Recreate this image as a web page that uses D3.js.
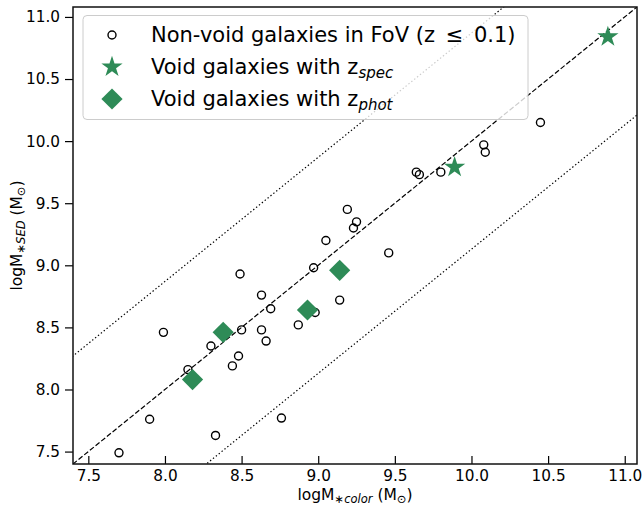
<!DOCTYPE html>
<html>
<head>
<meta charset="utf-8">
<script src="https://cdn.jsdelivr.net/npm/d3@7"></script>
<style>
  html, body { margin: 0; padding: 0; background: #fff; }
  svg { display: block; font-family: "DejaVu Sans", sans-serif; }
</style>
</head>
<body>
<svg id="chart" width="642" height="508"></svg>
<script>
// Non-void galaxies in the field of view: colour-based vs SED-based stellar mass
const nonVoidColor = [7.70, 7.90, 7.99, 8.15, 8.30, 8.33, 8.44, 8.48, 8.49, 8.50, 8.63, 8.63, 8.66, 8.69, 8.76, 8.87,
  8.97, 8.98, 9.05, 9.12, 9.14, 9.19, 9.23, 9.25, 9.46, 9.64, 9.66, 9.80, 10.08, 10.09, 10.45];
const nonVoidSED = [7.49, 7.76, 8.46, 8.16, 8.35, 7.63, 8.19, 8.27, 8.93, 8.48, 8.76, 8.48, 8.39, 8.65, 7.77, 8.52,
  8.98, 8.62, 9.20, 8.96, 8.72, 9.45, 9.30, 9.35, 9.10, 9.75, 9.73, 9.75, 9.97, 9.91, 10.15];

// Void galaxies with spectroscopic redshifts
const specColor = [9.89, 10.89];
const specSED = [9.79, 10.84];

// Void galaxies with photometric redshifts
const photColor = [8.18, 8.38, 8.93, 9.14];
const photSED = [8.08, 8.46, 8.64, 8.96];

// Axis settings
const axisDomain = [7.4, 11.08];
const tickValues = [7.5, 8.0, 8.5, 9.0, 9.5, 10.0, 10.5, 11.0];
const scatterOffset = 0.87;   // offset of the dotted envelope lines

const svg = d3.select("#chart");
const margin = { left: 73, right: 5, top: 7, bottom: 44 };
const W = 642, H = 508;
const green = "#2e8b57";

const x = d3.scaleLinear().domain(axisDomain).range([margin.left, W - margin.right]);
const y = d3.scaleLinear().domain(axisDomain).range([H - margin.bottom, margin.top]);

svg.append("defs").append("clipPath").attr("id", "plotClip")
  .append("rect")
  .attr("x", x(axisDomain[0])).attr("y", y(axisDomain[1]))
  .attr("width", x(axisDomain[1]) - x(axisDomain[0]))
  .attr("height", y(axisDomain[0]) - y(axisDomain[1]));

const plot = svg.append("g").attr("clip-path", "url(#plotClip)");

// one-to-one relation and its envelope
const relLines = [
  { off: 0, dash: "5.1,2.2" },
  { off: scatterOffset, dash: "1.4,2.3" },
  { off: -scatterOffset, dash: "1.4,2.3" }
];
const lineGen = d3.line().x(d => x(d[0])).y(d => y(d[1]));
relLines.forEach(l => {
  const lo = axisDomain[0] - 1, hi = axisDomain[1] + 1;
  plot.append("path")
    .datum([[lo, lo + l.off], [hi, hi + l.off]])
    .attr("d", lineGen)
    .attr("fill", "none")
    .attr("stroke", "#000")
    .attr("stroke-width", 1.2)
    .attr("stroke-dasharray", l.dash);
});

// markers
const circleR = 4;
const starSym = d3.symbol().type(d3.symbolStar).size(140);
const diamondSym = d3.symbol().type(d3.symbolSquare).size(225);

plot.selectAll("circle.nv")
  .data(d3.zip(nonVoidColor, nonVoidSED))
  .join("circle")
  .attr("class", "nv")
  .attr("cx", d => x(d[0])).attr("cy", d => y(d[1]))
  .attr("r", circleR)
  .attr("fill", "none")
  .attr("stroke", "#000")
  .attr("stroke-width", 1.4);

plot.selectAll("path.spec")
  .data(d3.zip(specColor, specSED))
  .join("path")
  .attr("class", "spec")
  .attr("d", starSym)
  .attr("transform", d => `translate(${x(d[0])},${y(d[1])})`)
  .attr("fill", green);

plot.selectAll("path.phot")
  .data(d3.zip(photColor, photSED))
  .join("path")
  .attr("class", "phot")
  .attr("d", diamondSym)
  .attr("transform", d => `translate(${x(d[0])},${y(d[1])}) rotate(45)`)
  .attr("fill", green);

// axes
const xAxis = d3.axisBottom(x).tickValues(tickValues).tickFormat(d3.format(".1f"))
  .tickSizeInner(-8).tickSizeOuter(0).tickPadding(6);
const yAxis = d3.axisLeft(y).tickValues(tickValues).tickFormat(d3.format(".1f"))
  .tickSizeInner(8).tickSizeOuter(0).tickPadding(5);

const gx = svg.append("g").attr("transform", `translate(0,${y(axisDomain[0])})`).call(xAxis);
const gy = svg.append("g").attr("transform", `translate(${x(axisDomain[0])},0)`).call(yAxis);
[gx, gy].forEach(g => {
  g.select(".domain").remove();
  g.selectAll(".tick line").attr("stroke", "#000").attr("stroke-width", 1.2);
  g.selectAll(".tick text").attr("font-size", 15.3).attr("fill", "#000")
    .attr("font-family", "DejaVu Sans, sans-serif");
});

// frame
svg.append("rect")
  .attr("x", x(axisDomain[0])).attr("y", y(axisDomain[1]))
  .attr("width", x(axisDomain[1]) - x(axisDomain[0]))
  .attr("height", y(axisDomain[0]) - y(axisDomain[1]))
  .attr("fill", "none").attr("stroke", "#111").attr("stroke-width", 1.5);

// axis titles
function massTitle(sel, sub) {
  sel.append("tspan").text("logM");
  sel.append("tspan").attr("font-size", 11.5).attr("dy", 3).text("∗");
  sel.append("tspan").attr("font-size", 11.5).attr("font-style", "italic").text(sub);
  sel.append("tspan").attr("dy", -3).text(" (M");
  sel.append("tspan").attr("font-size", 11.5).attr("dy", 3).text("⊙");
  sel.append("tspan").attr("dy", -3).text(")");
}
massTitle(svg.append("text")
  .attr("x", (x(axisDomain[0]) + x(axisDomain[1])) / 2)
  .attr("y", 500)
  .attr("text-anchor", "middle")
  .attr("font-size", 15.5), "color");

const yMid = (y(axisDomain[0]) + y(axisDomain[1])) / 2;
massTitle(svg.append("text")
  .attr("transform", `translate(22,${yMid}) rotate(-90)`)
  .attr("text-anchor", "middle")
  .attr("font-size", 15.5), "SED");

// legend
const legend = svg.append("g");
legend.append("rect")
  .attr("x", 83).attr("y", 15.5).attr("width", 445).attr("height", 104)
  .attr("rx", 4)
  .attr("fill", "#fff").attr("fill-opacity", 0.8)
  .attr("stroke", "#ccc").attr("stroke-width", 1);

const legendRows = [
  { type: "circle" },
  { type: "star", label: "spec" },
  { type: "diamond", label: "phot" }
];
const rowY = [35, 67, 99];
const markX = 112, textX = 151;
legendRows.forEach((r, i) => {
  const cy = rowY[i];
  if (r.type === "circle") {
    legend.append("circle").attr("cx", markX).attr("cy", cy).attr("r", circleR)
      .attr("fill", "none").attr("stroke", "#000").attr("stroke-width", 1.4);
    const t = legend.append("text").attr("x", textX).attr("y", cy + 7).attr("font-size", 21);
    t.append("tspan").text("Non-void galaxies in FoV (z ");
    t.append("tspan").attr("dx", 4).text("≤");
    t.append("tspan").attr("dx", 4).text(" 0.1)");
  } else {
    legend.append("path")
      .attr("d", r.type === "star" ? starSym : diamondSym)
      .attr("transform", `translate(${markX},${cy})` + (r.type === "diamond" ? " rotate(45)" : ""))
      .attr("fill", green);
    const t = legend.append("text").attr("x", textX).attr("y", cy + 7).attr("font-size", 21);
    t.append("tspan").text("Void galaxies with z");
    t.append("tspan").attr("font-size", 15).attr("font-style", "italic").attr("dy", 4).text(r.label);
  }
});
</script>
</body>
</html>
